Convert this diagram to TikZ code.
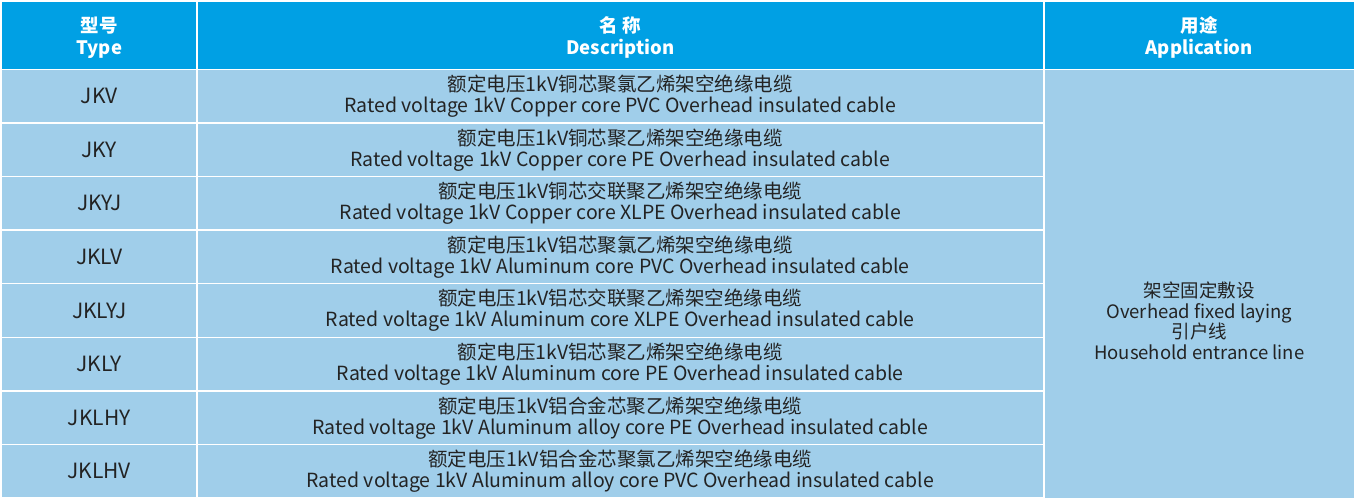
\documentclass[tikz,border=0pt]{standalone}
\usepackage{fontspec}
\setmainfont{Noto Sans CJK SC}
\definecolor{hdr}{RGB}{0,160,228}
\definecolor{bodyc}{RGB}{160,206,234}
\definecolor{txt}{RGB}{35,35,35}
\begin{document}
\begin{tikzpicture}[x=1pt,y=-1pt,
  cell/.style={draw=white,line width=1.5pt,fill=bodyc,inner sep=0pt,anchor=north west,text=txt,font=\fontsize{19.5}{21}\selectfont,align=center},
  head/.style={cell,fill=hdr,text=white,font=\fontsize{18.5}{22}\selectfont\bfseries}]
\useasboundingbox (0,0) rectangle (1355,498);
\fill[white] (0,0) rectangle (1355,498);
\node[head,minimum width=196pt,minimum height=68pt,text depth=-6pt] (h1) at (0.5,0.5) {型号\\Type};
\node[head,minimum width=847pt,minimum height=68pt,text depth=-6pt] (h2) at (196,0.5) {名 称\\Description};
\node[head,minimum width=311pt,minimum height=68pt,text depth=-6pt] (h3) at (1043,0.5) {用途\\Application};
\foreach \i/\t/\zh/\en in {
 0/JKV/额定电压1kV铜芯聚氯乙烯架空绝缘电缆/Rated voltage 1kV Copper core PVC Overhead insulated cable,
 1/JKY/额定电压1kV铜芯聚乙烯架空绝缘电缆/Rated voltage 1kV Copper core PE Overhead insulated cable,
 2/JKYJ/额定电压1kV铜芯交联聚乙烯架空绝缘电缆/Rated voltage 1kV Copper core XLPE Overhead insulated cable,
 3/JKLV/额定电压1kV铝芯聚氯乙烯架空绝缘电缆/Rated voltage 1kV Aluminum core PVC Overhead insulated cable,
 4/JKLYJ/额定电压1kV铝芯交联聚乙烯架空绝缘电缆/Rated voltage 1kV Aluminum core XLPE Overhead insulated cable,
 5/JKLY/额定电压1kV铝芯聚乙烯架空绝缘电缆/Rated voltage 1kV Aluminum core PE Overhead insulated cable,
 6/JKLHY/额定电压1kV铝合金芯聚乙烯架空绝缘电缆/Rated voltage 1kV Aluminum alloy core PE Overhead insulated cable,
 7/JKLHV/额定电压1kV铝合金芯聚氯乙烯架空绝缘电缆/Rated voltage 1kV Aluminum alloy core PVC Overhead insulated cable}{
  \node[cell,minimum width=196pt,minimum height=53.6pt,font=\fontsize{21}{23}\selectfont] (t\i) at (0.5,68.5+53.6*\i) {\t};
  \node[cell,minimum width=847pt,minimum height=53.6pt] (d\i) at (196,68.5+53.6*\i) {\zh\\\en};
}
\node[cell,minimum width=311pt,minimum height=429pt] (app) at (1043,68.5) {};
\node[text=txt,font=\fontsize{18.5}{20.7}\selectfont,align=center] (apptext) at ([yshift=-37pt]app.center) {架空固定敷设\\Overhead fixed laying\\引户线\\Household entrance line};
\end{tikzpicture}
\end{document}
